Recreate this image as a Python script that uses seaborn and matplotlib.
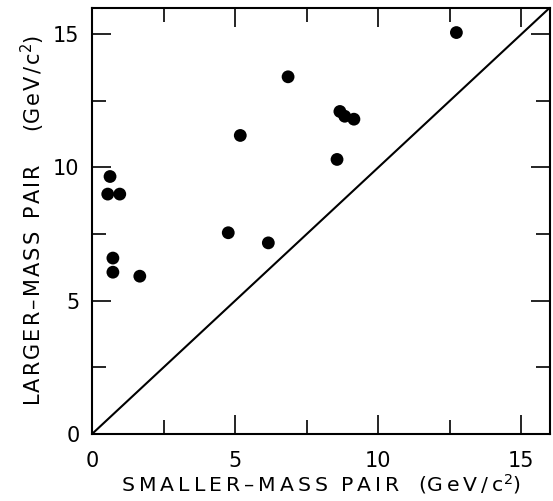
import matplotlib
matplotlib.use("Agg")
import matplotlib.pyplot as plt
import seaborn as sns
import pandas as pd
from matplotlib.ticker import MultipleLocator

smaller_mass = [0.63, 0.55, 0.97, 5.18, 4.76, 6.16, 0.73, 0.73, 1.67, 6.85, 12.73, 8.66, 8.83, 9.15, 8.56]
larger_mass = [9.66, 9.0, 9.0, 11.2, 7.55, 7.17, 6.6, 6.07, 5.92, 13.4, 15.06, 12.1, 11.92, 11.81, 10.3]
diag_x = [0, 16]
diag_y = [0, 16]
major_ticks = [0, 5, 10, 15]

sns.set_theme(style="ticks")
plt.rcParams['font.family'] = ['DejaVu Sans']
plt.rcParams['text.color'] = 'black'
plt.rcParams['axes.labelcolor'] = 'black'
plt.rcParams['xtick.color'] = 'black'
plt.rcParams['ytick.color'] = 'black'


def spaced(word, sep="\u2009"):
    return sep.join(word)


fig = plt.figure(figsize=(5.53, 5.01), dpi=100)
ax = fig.add_axes([92/553, 1-434/501, (550-92)/553, (434-7.5)/501])

df = pd.DataFrame({"x": smaller_mass, "y": larger_mass})
sns.lineplot(x=diag_x, y=diag_y, ax=ax, color="black", linewidth=1.5)
sns.scatterplot(data=df, x="x", y="y", ax=ax, color="black", s=85, edgecolor="none", zorder=3)

ax.set_xlim(0, 16)
ax.set_ylim(0, 16)
ax.set_xticks(major_ticks)
ax.set_yticks(major_ticks)
ax.set_xticklabels([str(t) for t in major_ticks])
ax.set_yticklabels([str(t) for t in major_ticks])
ax.xaxis.set_minor_locator(MultipleLocator(2.5))
ax.yaxis.set_minor_locator(MultipleLocator(2.5))
ax.tick_params(which="both", direction="in", top=True, right=True, width=1.2)
ax.tick_params(which="major", length=14, labelsize=15)
ax.tick_params(axis="x", which="major", pad=12)
ax.tick_params(axis="y", which="major", pad=9)
ax.tick_params(which="minor", length=10)
for s in ax.spines.values():
    s.set_color("black")
    s.set_linewidth(1.5)

xlab = spaced("SMALLER–MASS") + "  " + spaced("PAIR") + "   (" + spaced("GeV/c") + "$^2$)"
ylab = (spaced("LARGER–MASS", "\u200a") + "  " + spaced("PAIR", "\u200a") + "     ("
        + spaced("GeV/c", "\u200a") + "$^2$)")
ax.set_xlabel(xlab, fontsize=14.7, labelpad=1)
ax.set_ylabel(ylab, fontsize=15, labelpad=4)

fig.savefig("out.png", dpi=100)
